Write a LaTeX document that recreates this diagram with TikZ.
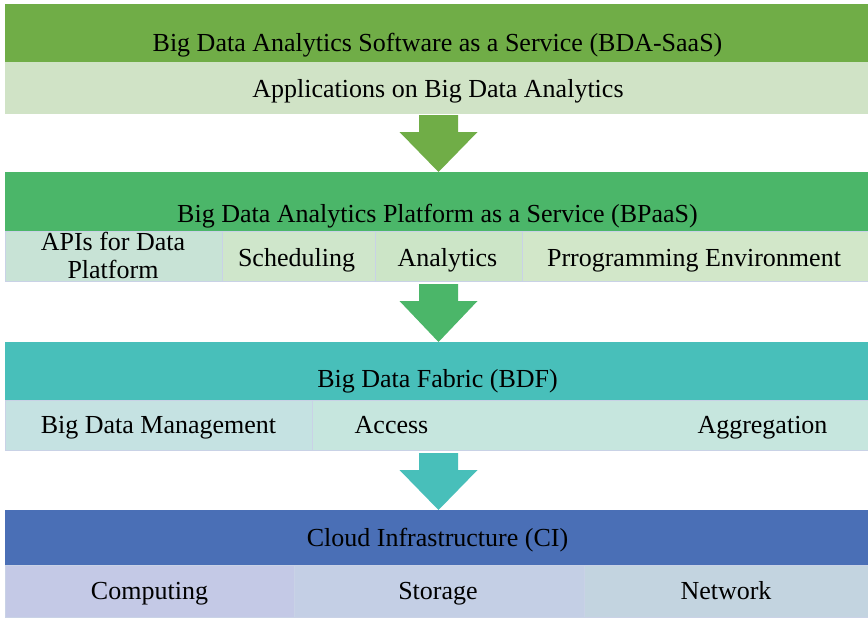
\documentclass[tikz,border=0pt]{standalone}
\usepackage{fontspec}
\setmainfont{Liberation Serif}
\usetikzlibrary{calc}

% layer colours
\definecolor{saasdark}{HTML}{70AD47}
\definecolor{saaslight}{HTML}{D0E3C6}
\definecolor{paasdark}{HTML}{4BB669}
\definecolor{paasA}{HTML}{C8E3D6}
\definecolor{paasB}{HTML}{CFE6CB}
\definecolor{paasC}{HTML}{CCE5C7}
\definecolor{paasD}{HTML}{D2E7C9}
\definecolor{bdfdark}{HTML}{48BFBA}
\definecolor{bdfA}{HTML}{C5E2E2}
\definecolor{bdfB}{HTML}{C6E6DE}
\definecolor{cidark}{HTML}{4A6FB6}
\definecolor{ciA}{HTML}{C4C9E6}
\definecolor{ciB}{HTML}{C4CFE5}
\definecolor{ciC}{HTML}{C3D4E0}
\definecolor{edgeline}{HTML}{C9D2E6}

\tikzset{
  band/.style={draw=none, anchor=north west, inner sep=0pt, outer sep=0pt},
  cell/.style={draw=edgeline, line width=0.8pt, anchor=north west, inner sep=0pt, outer sep=0pt},
  label/.style={font=\fontsize{26}{28}\selectfont, text=black, inner sep=0pt, align=center, anchor=base},
}

% downward block arrow between two boxes
\newcommand\blockarrow[4]{% from node, to node, colour, gap below upper node
  \fill[#3] ($(#1.south)+(-17.5,#4)$) -- ($(#1.south)+(21.5,#4)$)
    -- ($(#1.south)+(21.5,#4+17)$) -- ($(#1.south)+(41,#4+17)$)
    -- ($(#2.north)+(2,0)$)
    -- ($(#1.south)+(-37,#4+17)$) -- ($(#1.south)+(-17.5,#4+17)$) -- cycle;}

\begin{document}
\begin{tikzpicture}[x=1pt,y=-1pt]
\useasboundingbox[fill=white] (0,0) rectangle (868,618);

% Software as a Service
\node[band, fill=saasdark, minimum width=863pt, minimum height=58pt] (saas) at (5,4) {};
\node[band, fill=saaslight, minimum width=863pt, minimum height=52pt] (apps) at (5,62) {};
\node[label] (saasT) at (437.5,52) {Big Data Analytics Software as a Service (BDA-SaaS)};
\node[label] (appsT) at (438,97) {Applications on Big Data Analytics};

% Platform as a Service
\node[band, fill=paasdark, minimum width=863pt, minimum height=59pt] (paas) at (5,172) {};
\node[label] (paasT) at (437.5,222) {Big Data Analytics Platform as a Service (BPaaS)};
\node[cell, fill=paasA, minimum width=217pt, minimum height=50pt] (api) at (5,231) {};
\node[cell, fill=paasB, minimum width=153pt, minimum height=50pt] (sched) at (222,231) {};
\node[cell, fill=paasC, minimum width=147pt, minimum height=50pt] (anal) at (375,231) {};
\node[cell, fill=paasD, minimum width=346pt, minimum height=50pt] (prog) at (522,231) {};
\node[label] (apiT) at (113,278) {APIs for Data\\Platform};
\node[label] (schedT) at (296.5,266) {Scheduling};
\node[label] (analT) at (447.5,266) {Analytics};
\node[label] (progT) at (694,266) {Prrogramming Environment};

% Big Data Fabric
\node[band, fill=bdfdark, minimum width=863pt, minimum height=58pt] (bdf) at (5,342) {};
\node[label] (bdfT) at (437.5,387) {Big Data Fabric (BDF)};
\node[cell, fill=bdfA, minimum width=307pt, minimum height=50pt] (mgmt) at (5,400) {};
\node[cell, fill=bdfB, minimum width=556pt, minimum height=50pt] (acc) at (312,400) {};
\node[label] (mgmtT) at (158.5,433) {Big Data Management};
\node[label] (accT) at (391.5,433) {Access};
\node[label] (aggT) at (762.5,433) {Aggregation};

% Cloud Infrastructure
\node[band, fill=cidark, minimum width=863pt, minimum height=55pt] (ci) at (5,510) {};
\node[label] (ciT) at (437.5,546) {Cloud Infrastructure (CI)};
\node[cell, fill=ciA, minimum width=289pt, minimum height=52pt] (comp) at (5,565) {};
\node[cell, fill=ciB, minimum width=290pt, minimum height=52pt] (stor) at (294,565) {};
\node[cell, fill=ciC, minimum width=284pt, minimum height=52pt] (net) at (584,565) {};
\node[label] (compT) at (149.5,599) {Computing};
\node[label] (storT) at (438,599) {Storage};
\node[label] (netT) at (726,599) {Network};

% arrows between the layers
\coordinate (paasbase) at (436.5,281);
\coordinate (fabricbase) at (436.5,450);
\blockarrow{apps}{paas}{saasdark}{1}
\blockarrow{paasbase}{bdf}{paasdark}{3}
\blockarrow{fabricbase}{ci}{bdfdark}{3}
\end{tikzpicture}
\end{document}
